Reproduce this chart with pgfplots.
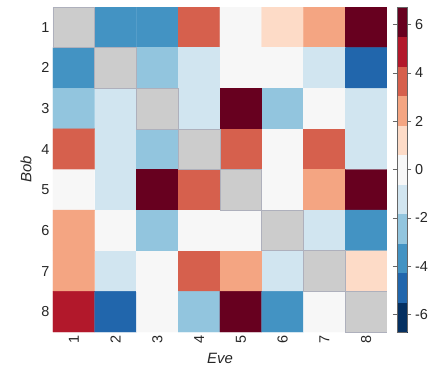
\documentclass[border=0pt]{standalone}
\usepackage{fontspec}
\setmainfont{Liberation Sans}
\usepackage{pgfplots}
\pgfplotsset{compat=1.18}
\usepackage{pgfplotstable}
\definecolor{m5}{HTML}{053061}
\definecolor{m4}{HTML}{2166AC}
\definecolor{m3}{HTML}{4393C3}
\definecolor{m2}{HTML}{92C5DE}
\definecolor{m1}{HTML}{D1E5F0}
\definecolor{z0}{HTML}{F7F7F7}
\definecolor{p1}{HTML}{FDDBC7}
\definecolor{p2}{HTML}{F4A582}
\definecolor{p3}{HTML}{D6604D}
\definecolor{p4}{HTML}{B2182B}
\definecolor{p5}{HTML}{67001F}
\definecolor{graycell}{HTML}{CCCCCC}
\definecolor{grayedge}{HTML}{AEB0BC}
\pgfplotstableread{
x y c
1 1 0
2 1 -3.6
3 1 -3.6
4 1 3.6
5 1 0
6 1 1.2
7 1 2.4
8 1 6.0
1 2 -3.6
2 2 0
3 2 -2.4
4 2 -1.2
5 2 0
6 2 0
7 2 -1.2
8 2 -4.8
1 3 -2.4
2 3 -1.2
3 3 0
4 3 -1.2
5 3 6.0
6 3 -2.4
7 3 0
8 3 -1.2
1 4 3.6
2 4 -1.2
3 4 -2.4
4 4 0
5 4 3.6
6 4 0
7 4 3.6
8 4 -1.2
1 5 0
2 5 -1.2
3 5 6.0
4 5 3.6
5 5 0
6 5 0
7 5 2.4
8 5 6.0
1 6 2.4
2 6 0
3 6 -2.4
4 6 0
5 6 0
6 6 0
7 6 -1.2
8 6 -3.6
1 7 2.4
2 7 -1.2
3 7 0
4 7 3.6
5 7 2.4
6 7 -1.2
7 7 0
8 7 1.2
1 8 4.8
2 8 -4.8
3 8 0
4 8 -2.4
5 8 6.0
6 8 -3.6
7 8 0
8 8 0
}\heat
\begin{document}
\begin{tikzpicture}
\begin{axis}[
  scale only axis, width=334bp, height=325bp,
  xmin=0.5, xmax=8.5, ymin=0.5, ymax=8.5, y dir=reverse,
  axis line style={draw=none}, major tick length=0pt,
  xtick={1,...,8}, ytick={1,...,8},
  xticklabel style={rotate=90, anchor=east},
  tick label style={font=\fontsize{14.5}{16}\selectfont, text=black!85},
  label style={font=\fontsize{15}{17}\selectfont\itshape, text=black!85},
  xlabel={Eve}, ylabel={Bob},
  xlabel shift=3bp, ylabel shift=3bp,
  /pgf/number format/assume math mode=true,
  colormap={rdbu}{color=(m5) color=(m4) color=(m3) color=(m2) color=(m1) color=(z0) color=(p1) color=(p2) color=(p3) color=(p4) color=(p5)},
  colormap access=piecewise constant,
  point meta min=-6.73, point meta max=6.73,
  colorbar,
  colorbar style={
    at={(parent axis.north east)}, anchor=north west, xshift=1.5bp,
    scale only axis, width=10.5bp, height=325bp,
    y dir=normal,
    ytick={-6,-4,...,6},
    yticklabel style={font=\fontsize{14.5}{16}\selectfont, text=black!85, /pgf/number format/assume math mode=true},
    tick align=outside, major tick length=4bp,
    tick style={draw=gray!80!black, line width=0.5bp},
    axis line style={draw=gray!80!black, line width=0.5bp},
  },
]
\addplot[matrix plot*, mesh/cols=8, point meta=explicit] table[x=x, y=y, meta=c] {\heat};
\addplot[fill=graycell, draw=grayedge, line width=0.6bp] coordinates {(0.5,0.5) (1.5,0.5) (1.5,1.5) (0.5,1.5)} -- cycle;
\addplot[fill=graycell, draw=grayedge, line width=0.6bp] coordinates {(1.5,1.5) (2.5,1.5) (2.5,2.5) (1.5,2.5)} -- cycle;
\addplot[fill=graycell, draw=grayedge, line width=0.6bp] coordinates {(2.5,2.5) (3.5,2.5) (3.5,3.5) (2.5,3.5)} -- cycle;
\addplot[fill=graycell, draw=grayedge, line width=0.6bp] coordinates {(3.5,3.5) (4.5,3.5) (4.5,4.5) (3.5,4.5)} -- cycle;
\addplot[fill=graycell, draw=grayedge, line width=0.6bp] coordinates {(4.5,4.5) (5.5,4.5) (5.5,5.5) (4.5,5.5)} -- cycle;
\addplot[fill=graycell, draw=grayedge, line width=0.6bp] coordinates {(5.5,5.5) (6.5,5.5) (6.5,6.5) (5.5,6.5)} -- cycle;
\addplot[fill=graycell, draw=grayedge, line width=0.6bp] coordinates {(6.5,6.5) (7.5,6.5) (7.5,7.5) (6.5,7.5)} -- cycle;
\addplot[fill=graycell, draw=grayedge, line width=0.6bp] coordinates {(7.5,7.5) (8.5,7.5) (8.5,8.5) (7.5,8.5)} -- cycle;
\end{axis}
\pgfresetboundingbox
\path[use as bounding box] (-53bp,-43bp) rectangle (380bp,332bp);
\end{tikzpicture}
\end{document}
